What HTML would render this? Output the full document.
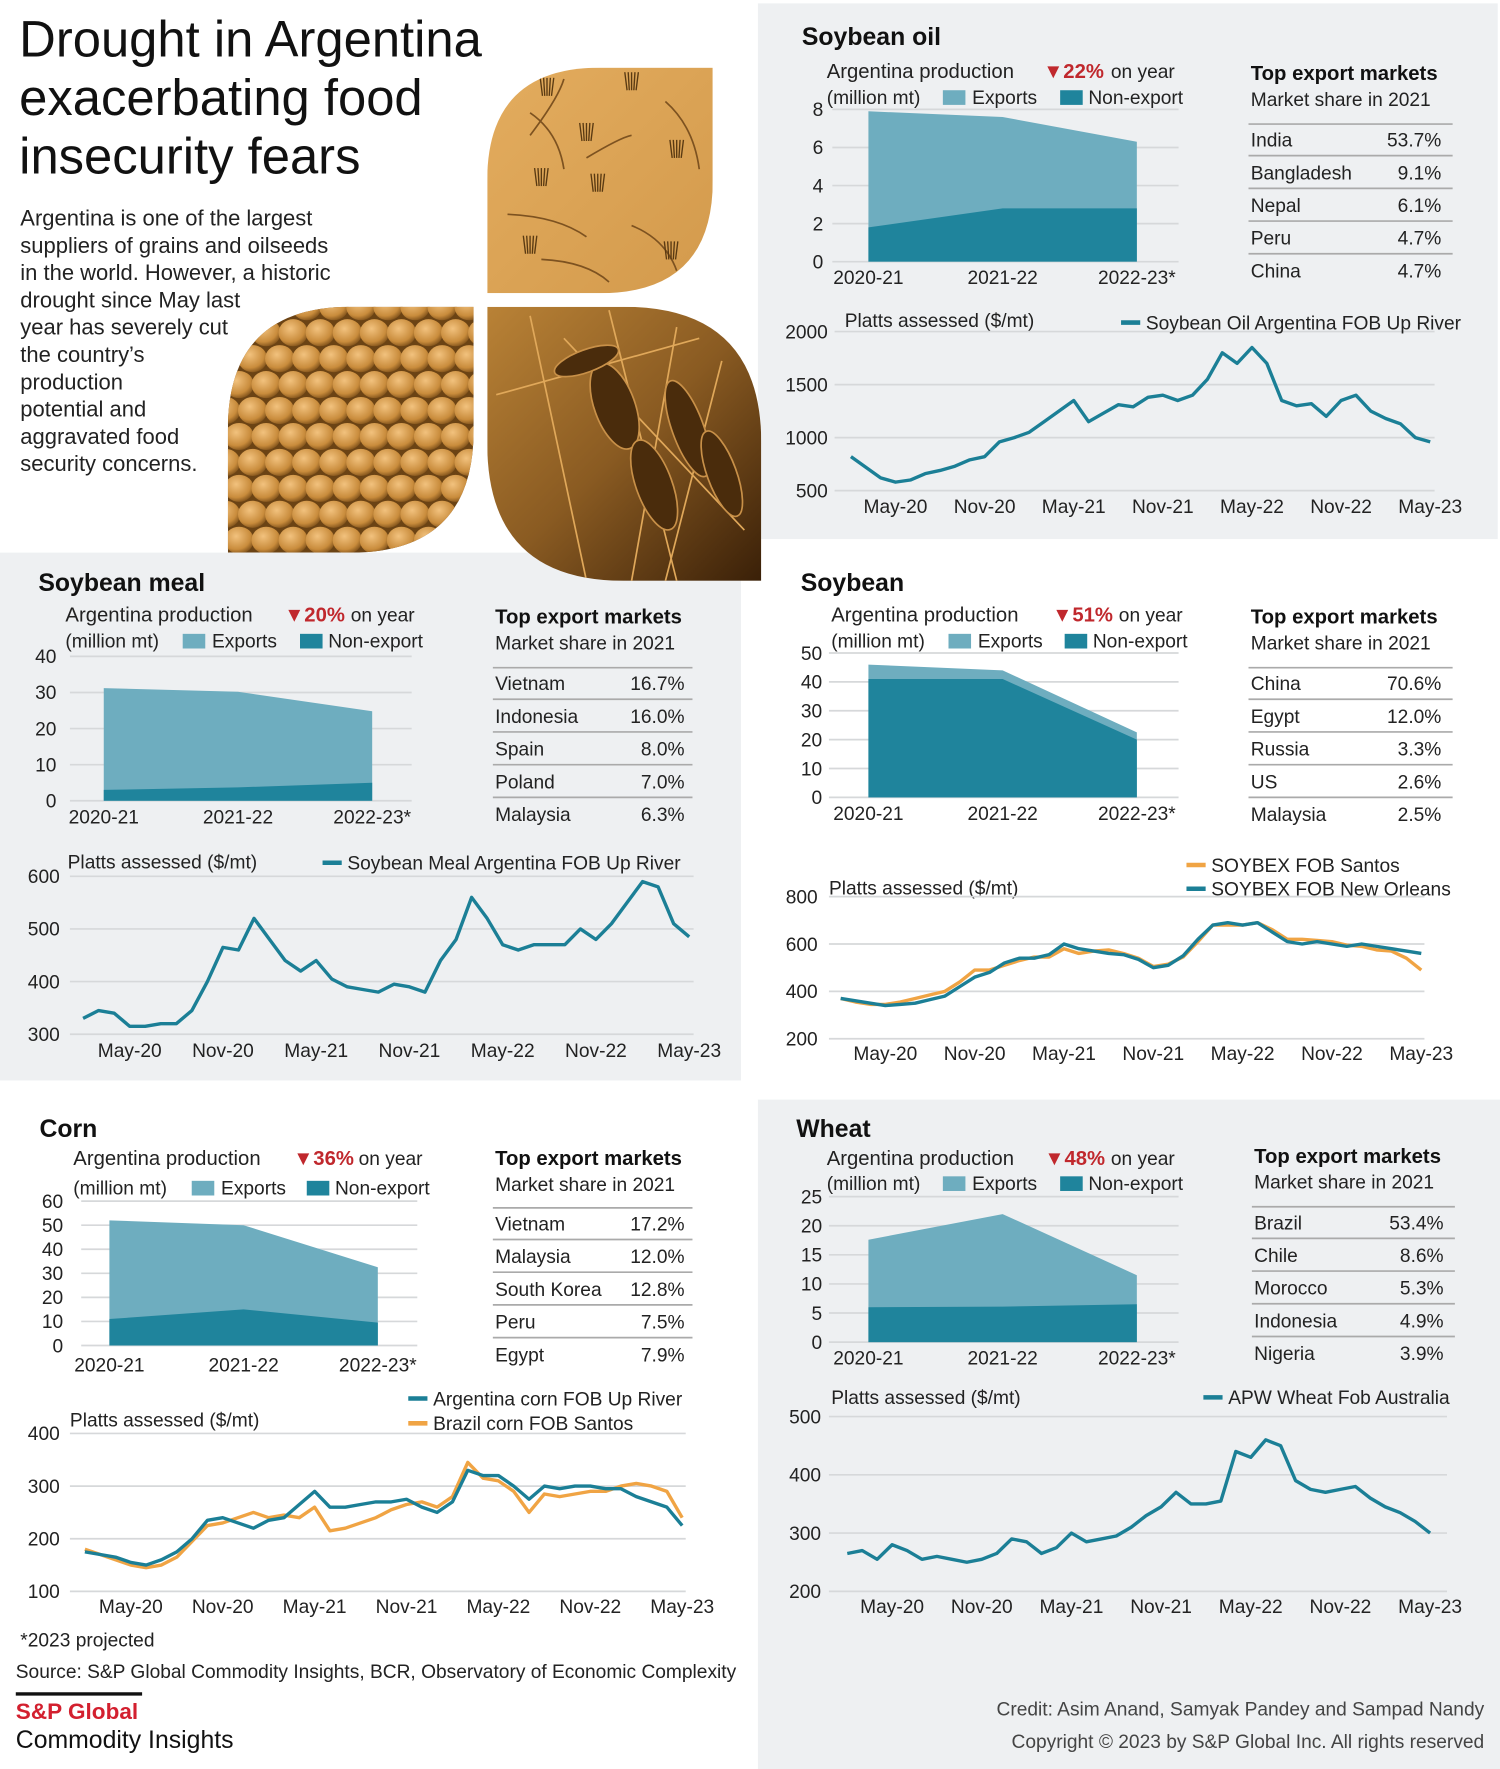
<!DOCTYPE html>
<html><head><meta charset="utf-8"><title>Drought in Argentina</title>
<style>
html,body{margin:0;padding:0;background:#fff;}
svg{display:block;font-family:"Liberation Sans",sans-serif;}
</style></head>
<body>
<svg id="c" width="1500" height="1769" viewBox="0 0 1330 1568.5" xmlns="http://www.w3.org/2000/svg">
<defs>
<radialGradient id="bean" cx="0.4" cy="0.35" r="0.7"><stop offset="0" stop-color="#f2c27e"/><stop offset="0.7" stop-color="#c98c3c"/><stop offset="1" stop-color="#7a4d18"/></radialGradient>
<linearGradient id="soil" x1="0" y1="0" x2="1" y2="1"><stop offset="0" stop-color="#e3ac5e"/><stop offset="1" stop-color="#d39a4c"/></linearGradient>
<linearGradient id="plant" x1="0" y1="0" x2="1" y2="1"><stop offset="0" stop-color="#b98236"/><stop offset="0.5" stop-color="#8a5b22"/><stop offset="1" stop-color="#3a2008"/></linearGradient>
<clipPath id="clipSoil"><path d="M432,260 L432,160 Q432,60 532,60 L632,60 L632,160 Q632,260 532,260 Z"/></clipPath>
<clipPath id="clipBeans"><path d="M202,490 L202,381 Q202,272 311,272 L420,272 L420,381 Q420,490 311,490 Z"/></clipPath>
<clipPath id="clipPlant"><path d="M432,272 L553,272 Q675,272 675,393 L675,515 L553,515 Q432,515 432,393 Z"/></clipPath>
</defs>
<g id="bg"></g>
<g id="photos"></g>
<g id="main"></g>
</svg>
<script>
// ---------- DATA ----------
const catLabels = ['2020-21', '2021-22', '2022-23*'];
const timeTicks = ['May-20', 'Nov-20', 'May-21', 'Nov-21', 'May-22', 'Nov-22', 'May-23'];
const tickMonths = [3, 9, 15, 21, 27, 33, 39]; // months since Feb-20

const oilTotal = [7.9, 7.6, 6.3];
const oilNonExport = [1.8, 2.8, 2.8];
const mealTotal = [31.2, 30.2, 24.8];
const mealNonExport = [3.0, 3.7, 5.0];
const beanTotal = [46, 44, 22.5];
const beanNonExport = [41, 41, 20];
const cornTotal = [52, 50, 32.5];
const cornNonExport = [11, 15, 9.5];
const wheatTotal = [17.6, 22, 11.5];
const wheatNonExport = [6.0, 6.1, 6.5];

const oilMarkets = ['India', 'Bangladesh', 'Nepal', 'Peru', 'China'];
const oilShares = ['53.7%', '9.1%', '6.1%', '4.7%', '4.7%'];
const mealMarkets = ['Vietnam', 'Indonesia', 'Spain', 'Poland', 'Malaysia'];
const mealShares = ['16.7%', '16.0%', '8.0%', '7.0%', '6.3%'];
const beanMarkets = ['China', 'Egypt', 'Russia', 'US', 'Malaysia'];
const beanShares = ['70.6%', '12.0%', '3.3%', '2.6%', '2.5%'];
const cornMarkets = ['Vietnam', 'Malaysia', 'South Korea', 'Peru', 'Egypt'];
const cornShares = ['17.2%', '12.0%', '12.8%', '7.5%', '7.9%'];
const wheatMarkets = ['Brazil', 'Chile', 'Morocco', 'Indonesia', 'Nigeria'];
const wheatShares = ['53.4%', '8.6%', '5.3%', '4.9%', '3.9%'];

// monthly prices Feb-20 .. May-23
const oilPrice = [820,720,620,580,600,660,690,730,790,820,960,1000,1050,1150,1250,1350,1150,1230,1310,1290,1380,1400,1350,1400,1550,1800,1700,1850,1700,1350,1300,1320,1200,1350,1400,1250,1180,1130,1000,960];
const mealPrice = [330,345,340,315,315,320,320,345,400,465,460,520,480,440,420,440,405,390,385,380,395,390,380,440,480,560,520,470,460,470,470,470,500,480,510,550,590,580,510,485];
const beanNola = [370,360,350,340,345,350,365,380,420,460,480,520,540,540,555,600,580,570,560,555,535,500,510,550,620,680,690,680,690,650,610,600,610,600,590,600,590,580,570,560];
const beanSantos = [370,355,345,345,355,370,385,400,440,490,490,510,530,545,545,580,560,570,575,560,540,505,515,545,610,680,680,680,690,660,620,620,615,610,595,590,575,570,540,490];
const cornArg = [175,170,165,155,150,160,175,200,235,240,230,220,235,240,265,290,260,260,265,270,270,275,260,250,270,330,320,320,300,275,300,295,300,300,295,295,280,270,260,225];
const cornBrazil = [180,170,160,150,145,150,165,195,225,230,240,250,240,245,240,260,215,220,230,240,255,265,270,260,280,345,315,310,290,250,285,280,285,290,290,300,305,300,290,240];
const wheatPrice = [265,270,255,280,270,255,260,255,250,255,265,290,285,265,275,300,285,290,295,310,330,345,370,350,350,355,440,430,460,450,390,375,370,375,380,360,345,335,320,300];

// ---------- HELPERS ----------
const NS = 'http://www.w3.org/2000/svg';
const C_EXP = '#6eadbf', C_NON = '#1f849c', C_TEAL = '#1b7f96', C_ORA = '#f0a444', C_RED = '#c0282d', C_GRID = '#d6d8da';
function mk(tag, parent) { const e = document.createElementNS(NS, tag); (parent || document.getElementById('main')).appendChild(e); return e; }
function txt(parent, x, y, s, size, opts) {
  const t = mk('text', parent);
  t.setAttribute('x', x); t.setAttribute('y', y);
  t.setAttribute('font-size', size);
  if (opts && opts.anchor) t.setAttribute('text-anchor', opts.anchor);
  if (opts && opts.bold) t.setAttribute('font-weight', 'bold');
  t.setAttribute('fill', (opts && opts.fill) || '#222');
  t.textContent = s;
  return t;
}
function line(parent, x1, y1, x2, y2, color, w) {
  const l = mk('line', parent);
  l.setAttribute('x1', x1); l.setAttribute('y1', y1); l.setAttribute('x2', x2); l.setAttribute('y2', y2);
  l.setAttribute('stroke', color); l.setAttribute('stroke-width', w);
  return l;
}
function rect(parent, x, y, w, h, fill) {
  const r = mk('rect', parent);
  r.setAttribute('x', x); r.setAttribute('y', y); r.setAttribute('width', w); r.setAttribute('height', h); r.setAttribute('fill', fill);
  return r;
}

// ---------- BACKGROUND PANELS ----------
const bg = document.getElementById('bg');
[[672, 3, 656, 475, 'soybean-oil-panel-bg'], [0, 490, 657, 468, 'soybean-meal-panel-bg'], [672, 975, 658, 594, 'wheat-panel-bg']].forEach(p => {
  const r = rect(bg, p[0], p[1], p[2], p[3], '#eef0f2');
  
  
});

// ---------- PHOTOS ----------
const ph = document.getElementById('photos');
const gSoil = mk('g', ph); gSoil.setAttribute('clip-path', 'url(#clipSoil)');


rect(gSoil, 432, 60, 200, 200, 'url(#soil)');
[[470,100,500,150],[520,140,560,120],[450,190,520,210],[560,200,600,240],[480,230,540,250],[590,90,620,150],[500,70,470,120]].forEach(c => {
  const p = mk('path', gSoil); p.setAttribute('d', `M${c[0]},${c[1]} Q${(c[0]+c[2])/2+10},${(c[1]+c[3])/2-8} ${c[2]},${c[3]}`);
  p.setAttribute('stroke', '#7d5220'); p.setAttribute('stroke-width', 1.5); p.setAttribute('fill', 'none');
});
[[485,85],[560,80],[520,125],[480,165],[600,140],[530,170],[470,225],[595,230]].forEach(c => {
  for (let k = -2; k <= 2; k++) line(gSoil, c[0]+k*2, c[1], c[0]+k*3, c[1]-16, '#5a3a12', 1.2);
});
const gBeans = mk('g', ph); gBeans.setAttribute('clip-path', 'url(#clipBeans)');


rect(gBeans, 202, 272, 218, 218, '#6b4314');
for (let r = 0; r < 10; r++) for (let c = 0; c < 10; c++) {
  const ci = mk('ellipse', gBeans);
  ci.setAttribute('cx', 200 + c * 24 + (r % 2) * 12); ci.setAttribute('cy', 272 + r * 23);
  ci.setAttribute('rx', 13); ci.setAttribute('ry', 12); ci.setAttribute('fill', 'url(#bean)');
}
const gPlant = mk('g', ph); gPlant.setAttribute('clip-path', 'url(#clipPlant)');


rect(gPlant, 432, 272, 243, 243, 'url(#plant)');
[[470,280,520,515],[540,275,600,515],[600,290,560,515],[440,350,620,300],[500,300,660,470],[640,320,590,515]].forEach(c => line(gPlant, c[0], c[1], c[2], c[3], '#e0a85a', 1.5));
[[545,360,18,40],[610,380,14,45],[580,430,16,42],[640,420,13,40],[520,320,30,10]].forEach(c => {
  const e = mk('ellipse', gPlant); e.setAttribute('cx', c[0]); e.setAttribute('cy', c[1]); e.setAttribute('rx', c[2]); e.setAttribute('ry', c[3]);
  e.setAttribute('fill', '#4a2c0c'); e.setAttribute('stroke', '#c89048'); e.setAttribute('stroke-width', 1.5);
  e.setAttribute('transform', `rotate(-20 ${c[0]} ${c[1]})`);
});

// ---------- HEADER TEXT ----------
const main = document.getElementById('main');
const hg = mk('g', main);


['Drought in Argentina', 'exacerbating food', 'insecurity fears'].forEach((s, i) => txt(hg, 17, 50 + i * 52, s, 45, { fill: '#111' }));
const pg = mk('g', main);


['Argentina is one of the largest', 'suppliers of grains and oilseeds', 'in the world. However, a historic', 'drought since May last', 'year has severely cut', 'the country’s', 'production', 'potential and', 'aggravated food', 'security concerns.'].forEach((s, i) => txt(pg, 18, 200 + i * 24.2, s, 19.5, { fill: '#222' }));

// ---------- PANEL DRAWING ----------
function drawPanel(cfg) {
  const g = mk('g', main);
  
  
  const t = txt(g, cfg.title[0], cfg.title[1], cfg.titleText, 22, { bold: true, fill: '#111' });
  
  
  const p = cfg.prod;
  txt(g, p.x, p.y, 'Argentina production', 18);
  const pct = txt(g, p.pctX, p.y, '▼' + cfg.pct, 18, { bold: true, fill: C_RED });
  
  
  txt(g, p.onX, p.y, 'on year', 17);
  txt(g, p.x, p.uy, '(million mt)', 17);
  const lg1 = rect(g, p.sw1, p.uy - 12, 20, 13, C_EXP);
  
  
  txt(g, p.sw1 + 26, p.uy, 'Exports', 17);
  const lg2 = rect(g, p.sw2, p.uy - 12, 20, 13, C_NON);
  
  
  txt(g, p.sw2 + 25, p.uy, 'Non-export', 17);
  const a = cfg.area;
  const ay = v => a.y0 + (a.yTop - a.y0) * v / a.max;
  const ax = i => a.cx[0] + (a.cx[1] - a.cx[0]) * i / 2;
  for (let v = 0; v <= a.max; v += a.step) {
    line(g, a.gx0, ay(v), a.gx1, ay(v), C_GRID, 1.5);
    txt(g, a.lx, ay(v) + 6, String(v), 17, { anchor: 'end' });
  }
  const tot = cfg.total, non = cfg.non;
  let d1 = `M${ax(0)},${ay(0)}`;
  tot.forEach((v, i) => d1 += ` L${ax(i)},${ay(v)}`);
  d1 += ` L${ax(2)},${ay(0)} Z`;
  const e = mk('path', g); e.setAttribute('d', d1); e.setAttribute('fill', C_EXP);
  
  
  let d2 = `M${ax(0)},${ay(0)}`;
  non.forEach((v, i) => d2 += ` L${ax(i)},${ay(v)}`);
  d2 += ` L${ax(2)},${ay(0)} Z`;
  const n = mk('path', g); n.setAttribute('d', d2); n.setAttribute('fill', C_NON);
  
  
  catLabels.forEach((c, i) => txt(g, ax(i), a.ly, c, 17, { anchor: 'middle' }));
  const tb = cfg.table;
  const tg = mk('g', g);
  
  
  txt(tg, tb.x, tb.ty, 'Top export markets', 18, { fill: '#111' }).setAttribute('font-weight', '600');
  txt(tg, tb.x, tb.ty + 23, 'Market share in 2021', 17);
  line(tg, tb.x - 2, tb.line, tb.lineEnd, tb.line, '#aaa', 1.5);
  cfg.markets.forEach((m, i) => {
    const y = tb.line + 20 + i * 29;
    txt(tg, tb.x, y, m, 17);
    txt(tg, tb.right, y, cfg.shares[i], 17, { anchor: 'end' });
    if (i < 4) line(tg, tb.x - 2, y + 8, tb.lineEnd, y + 8, '#aaa', 1.5);
  });
  const L = cfg.line;
  const ly = v => L.yTop + (L.yBot - L.yTop) * (L.max - v) / (L.max - L.min);
  const lx = m => L.x3 + (m - 3) * L.dx;
  txt(g, L.labX, L.labY, 'Platts assessed ($/mt)', 17);
  for (let v = L.min; v <= L.max; v += L.step) {
    line(g, L.gx0, ly(v), L.gx1, ly(v), C_GRID, 1.5);
    txt(g, L.tlx, ly(v) + 6, String(v), 17, { anchor: 'end' });
  }
  timeTicks.forEach((s, i) => txt(g, lx(tickMonths[i]), L.xly, s, 17, { anchor: 'middle' }));
  cfg.series.forEach(s => {
    const lgd = line(g, s.lgX, s.lgY, s.lgX + 17, s.lgY, s.color, 4);
    
    
    txt(g, s.lgX + 22, s.lgY + 6, s.label, 17);
  });
  cfg.series.forEach(s => {
    const pl = mk('polyline', g);
    pl.setAttribute('points', s.data.map((v, i) => lx(i) + ',' + ly(v)).join(' '));
    pl.setAttribute('fill', 'none'); pl.setAttribute('stroke', s.color); pl.setAttribute('stroke-width', 3);
    pl.setAttribute('stroke-linejoin', 'round');
    
    
  });
}

drawPanel({ name: 'soybean-oil', titleText: 'Soybean oil', title: [711, 40], pct: '22%',
  prod: { x: 733, y: 69, pctX: 925, onX: 985, uy: 92, sw1: 836, sw2: 940 },
  area: { y0: 232, yTop: 97, max: 8, step: 2, lx: 730, gx0: 738, gx1: 1045, cx: [770, 1008], ly: 252 },
  total: oilTotal, non: oilNonExport,
  table: { x: 1109, right: 1278, lineEnd: 1288, ty: 71, line: 110 },
  markets: oilMarkets, shares: oilShares,
  line: { yTop: 294, yBot: 435, max: 2000, min: 500, step: 500, gx0: 740, gx1: 1272, tlx: 734, xly: 455, x3: 794, dx: 13.17, labX: 749, labY: 290 },
  series: [{ key: 'argentina', data: oilPrice, color: C_TEAL, label: 'Soybean Oil Argentina FOB Up River', lgX: 994, lgY: 286 }]
});
drawPanel({ name: 'soybean-meal', titleText: 'Soybean meal', title: [34, 524], pct: '20%',
  prod: { x: 58, y: 551, pctX: 252, onX: 311, uy: 574, sw1: 162, sw2: 266 },
  area: { y0: 710, yTop: 582, max: 40, step: 10, lx: 50, gx0: 62, gx1: 365, cx: [92, 330], ly: 730 },
  total: mealTotal, non: mealNonExport,
  table: { x: 439, right: 607, lineEnd: 614, ty: 553, line: 592 },
  markets: mealMarkets, shares: mealShares,
  line: { yTop: 777, yBot: 917, max: 600, min: 300, step: 100, gx0: 62, gx1: 615, tlx: 53, xly: 937, x3: 115, dx: 13.78, labX: 60, labY: 770 },
  series: [{ key: 'argentina', data: mealPrice, color: C_TEAL, label: 'Soybean Meal Argentina FOB Up River', lgX: 286, lgY: 765 }]
});
drawPanel({ name: 'soybean', titleText: 'Soybean', title: [710, 524], pct: '51%',
  prod: { x: 737, y: 551, pctX: 933, onX: 992, uy: 574, sw1: 841, sw2: 944 },
  area: { y0: 707, yTop: 579, max: 50, step: 10, lx: 729, gx0: 735, gx1: 1045, cx: [770, 1008], ly: 727 },
  total: beanTotal, non: beanNonExport,
  table: { x: 1109, right: 1278, lineEnd: 1288, ty: 553, line: 592 },
  markets: beanMarkets, shares: beanShares,
  line: { yTop: 795, yBot: 921, max: 800, min: 200, step: 200, gx0: 735, gx1: 1263, tlx: 725, xly: 940, x3: 785, dx: 13.2, labX: 735, labY: 793 },
  series: [
    { key: 'santos', data: beanSantos, color: C_ORA, label: 'SOYBEX FOB Santos', lgX: 1052, lgY: 767 },
    { key: 'new-orleans', data: beanNola, color: C_TEAL, label: 'SOYBEX FOB New Orleans', lgX: 1052, lgY: 788 }]
});
drawPanel({ name: 'corn', titleText: 'Corn', title: [35, 1008], pct: '36%',
  prod: { x: 65, y: 1033, pctX: 260, onX: 318, uy: 1059, sw1: 170, sw2: 272 },
  area: { y0: 1193, yTop: 1065, max: 60, step: 10, lx: 56, gx0: 72, gx1: 370, cx: [97, 335], ly: 1216 },
  total: cornTotal, non: cornNonExport,
  table: { x: 439, right: 607, lineEnd: 614, ty: 1033, line: 1071 },
  markets: cornMarkets, shares: cornShares,
  line: { yTop: 1271, yBot: 1411, max: 400, min: 100, step: 100, gx0: 62, gx1: 608, tlx: 53, xly: 1430, x3: 116, dx: 13.58, labX: 62, labY: 1265 },
  series: [
    { key: 'brazil', data: cornBrazil, color: C_ORA, label: 'Brazil corn FOB Santos', lgX: 362, lgY: 1262 },
    { key: 'argentina', data: cornArg, color: C_TEAL, label: 'Argentina corn FOB Up River', lgX: 362, lgY: 1240 }]
});
drawPanel({ name: 'wheat', titleText: 'Wheat', title: [706, 1008], pct: '48%',
  prod: { x: 733, y: 1033, pctX: 926, onX: 985, uy: 1055, sw1: 836, sw2: 940 },
  area: { y0: 1190, yTop: 1061, max: 25, step: 5, lx: 729, gx0: 735, gx1: 1045, cx: [770, 1008], ly: 1210 },
  total: wheatTotal, non: wheatNonExport,
  table: { x: 1112, right: 1280, lineEnd: 1290, ty: 1031, line: 1070 },
  markets: wheatMarkets, shares: wheatShares,
  line: { yTop: 1256, yBot: 1411, max: 500, min: 200, step: 100, gx0: 735, gx1: 1283, tlx: 728, xly: 1430, x3: 791, dx: 13.25, labX: 737, labY: 1245 },
  series: [{ key: 'australia', data: wheatPrice, color: C_TEAL, label: 'APW Wheat Fob Australia', lgX: 1067, lgY: 1239 }]
});

// ---------- FOOTER ----------
const fg = mk('g', main);


txt(fg, 18, 1460, '*2023 projected', 17);
txt(fg, 14, 1488, 'Source: S&P Global Commodity Insights, BCR, Observatory of Economic Complexity', 17);
line(fg, 14, 1502, 126, 1502, '#111', 3);
const logo = txt(fg, 14, 1524, 'S&P Global', 20, { bold: true, fill: '#d3202f' });


txt(fg, 14, 1550, 'Commodity Insights', 22, { fill: '#111' });
txt(fg, 1316, 1521, 'Credit: Asim Anand, Samyak Pandey and Sampad Nandy', 17, { anchor: 'end', fill: '#444' });
txt(fg, 1316, 1550, 'Copyright © 2023 by S&P Global Inc. All rights reserved', 17, { anchor: 'end', fill: '#444' });
</script>
</body></html>
